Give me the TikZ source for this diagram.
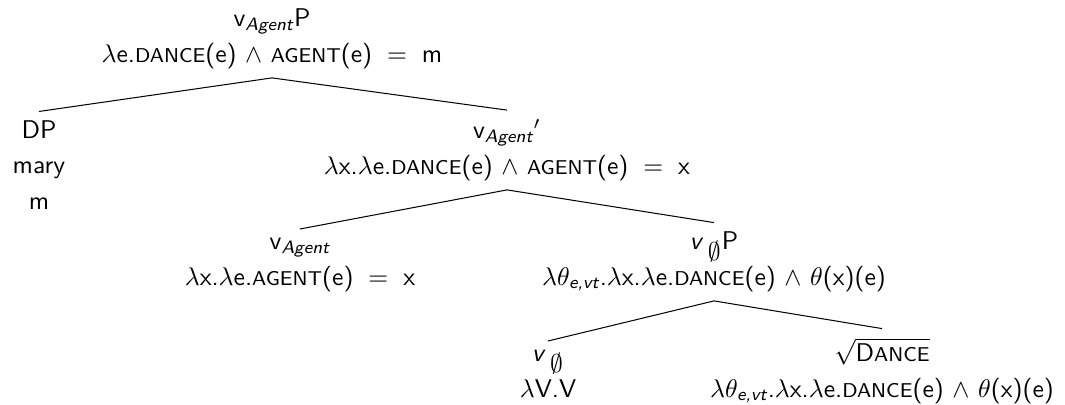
\documentclass[tikz,border=0pt]{standalone}
\usepackage{amsmath,amssymb}
\usepackage{tikz}
\renewcommand{\familydefault}{\sfdefault}
\newcommand{\smc}[1]{{\fontsize{7.8pt}{9pt}\selectfont #1}}
\newcommand{\nullsub}{$_{\textstyle\emptyset}$}
\newcommand{\eqsign}{\hspace{0.25em}$=$\hspace{0.25em}}

\begin{document}
\begin{tikzpicture}[
  x=0.39pt, y=-0.39pt,
  lbl/.style={align=center, anchor=base, inner ysep=3.5pt,
              font=\fontsize{10pt}{13.7pt}\selectfont},
  branch/.style={draw=black, line width=0.4pt}]
\useasboundingbox (0,0) rectangle (1065,405);
\node[lbl] (vagentp) at (272,62) {v$_{\textit{Agent}}$P\\$\lambda$e.\smc{DANCE}(e) $\wedge$ \smc{AGENT}(e) \eqsign{} m};
\node[lbl] (dp) at (39,209) {DP\\mary\\m};
\node[lbl] (vagentbar) at (507,174) {v$_{\textit{Agent}}{}'$\\$\lambda$x.$\lambda$e.\smc{DANCE}(e) $\wedge$ \smc{AGENT}(e) \eqsign{} x};
\node[lbl] (vagent) at (300,285) {v$_{\textit{Agent}}$\\$\lambda$x.$\lambda$e.\smc{AGENT}(e) \eqsign{} x};
\node[lbl] (vnullp) at (714,285) {\textit{v}\,\nullsub P\\$\lambda\theta_{\textit{e,vt}}$.$\lambda$x.$\lambda$e.\smc{DANCE}(e) $\wedge$ $\theta$(x)(e)};
\node[lbl] (vnull) at (548,397) {\textit{v}\,\nullsub\\$\lambda$V.V};
\node[lbl] (root) at (882,397) {$\sqrt{\text{D\smc{ANCE}}}$\\$\lambda\theta_{\textit{e,vt}}$.$\lambda$x.$\lambda$e.\smc{DANCE}(e) $\wedge$ $\theta$(x)(e)};
\draw[branch] (vagentp.south) -- (dp.north);
\draw[branch] (vagentp.south) -- (vagentbar.north);
\draw[branch] (vagentbar.south) -- (vagent.north);
\draw[branch] (vagentbar.south) -- (vnullp.north);
\draw[branch] (vnullp.south) -- (vnull.north);
\draw[branch] (vnullp.south) -- (root.north);
\end{tikzpicture}
\end{document}
